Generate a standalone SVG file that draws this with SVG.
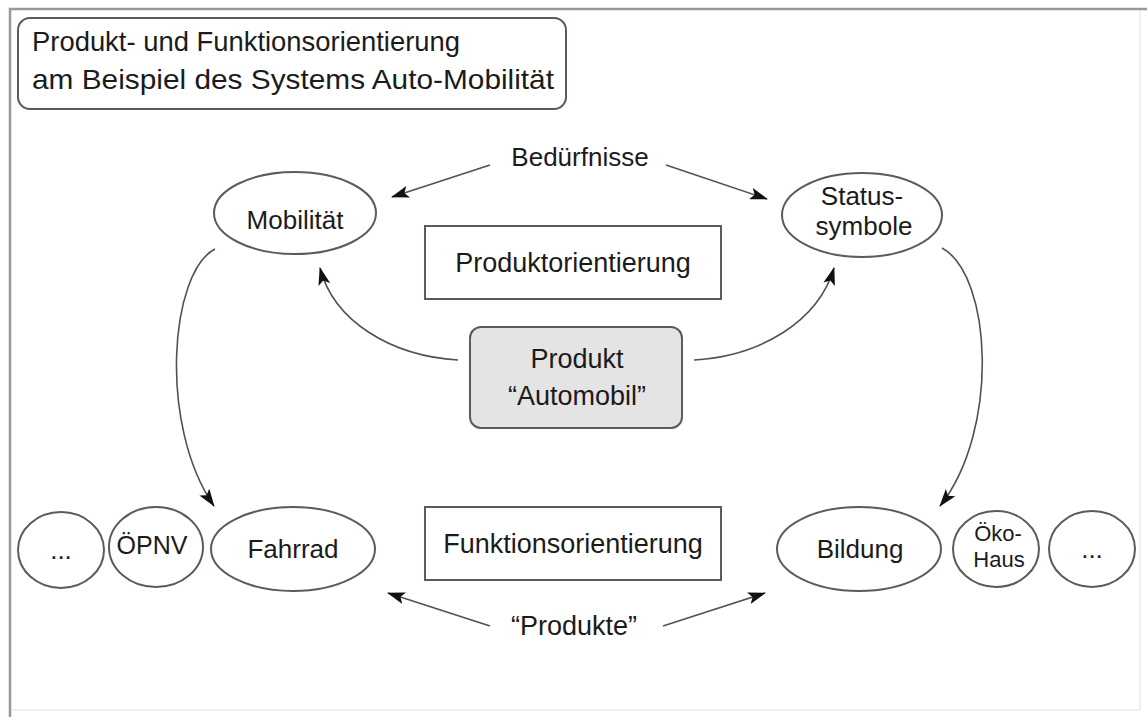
<svg xmlns="http://www.w3.org/2000/svg" width="1147" height="717" viewBox="0 0 1147 717">
<defs>
<style>
text{font-family:"Liberation Sans",Arial,sans-serif;fill:#1b1b1b;text-anchor:middle}
.t{font-size:26px}
.el{fill:#fff;stroke:#5e5a5a;stroke-width:2}
.bx{fill:#fff;stroke:#5e5a5a;stroke-width:2}
.c{fill:none;stroke:#555050;stroke-width:1.6}
</style>
<marker id="ah" viewBox="0 0 18 12" refX="17" refY="6" markerWidth="18" markerHeight="12" markerUnits="userSpaceOnUse" orient="auto">
<path d="M0,0 L18,6 L0,12 L4,6 Z" fill="#111"/>
</marker>
</defs>
<rect width="1147" height="717" fill="#fff"/>
<g id="frame">
<path d="M1140,9 L1140,710 L10,710" fill="none" stroke="#ececec" stroke-width="1.5"/>
<path d="M10,717 L10,9 L1147,9" fill="none" stroke="#9c9696" stroke-width="2.5"/>
</g>
<g id="title">
<rect x="18" y="18" width="548" height="91" rx="12" class="bx"/>
<text x="32" y="51" style="font-size:28px;text-anchor:start" textLength="428" lengthAdjust="spacingAndGlyphs">Produkt- und Funktionsorientierung</text>
<text x="32" y="89" style="font-size:28px;text-anchor:start" textLength="522" lengthAdjust="spacingAndGlyphs">am Beispiel des Systems Auto-Mobilität</text>
</g>
<g id="connectors">
<path class="c" d="M490,165 L392,197" marker-end="url(#ah)"/>
<path class="c" d="M666,165 L767,199" marker-end="url(#ah)"/>
<path class="c" d="M458,360 C392,356 334,322 320,268" marker-end="url(#ah)"/>
<path class="c" d="M694,360 C760,356 818,322 834,268" marker-end="url(#ah)"/>
<path class="c" d="M215,249 C170,272 158,425 214,506" marker-end="url(#ah)"/>
<path class="c" d="M942,248 C992,275 1000,430 940,506" marker-end="url(#ah)"/>
<path class="c" d="M490,626 L388,593" marker-end="url(#ah)"/>
<path class="c" d="M663,626 L765,593" marker-end="url(#ah)"/>
</g>
<g id="beduerfnisse"><text class="t" x="580" y="166">Bedürfnisse</text></g>
<g id="mobilitaet">
<ellipse cx="295" cy="213" rx="81" ry="41" class="el"/>
<text class="t" x="295" y="229">Mobilität</text>
</g>
<g id="statussymbole">
<ellipse cx="862" cy="215" rx="80" ry="42" class="el"/>
<text class="t" x="862" y="205">Status-</text>
<text class="t" x="864" y="235">symbole</text>
</g>
<g id="produktorientierung">
<rect x="425" y="226" width="296" height="73" class="bx"/>
<text x="573" y="272" style="font-size:27px">Produktorientierung</text>
</g>
<g id="produkt">
<rect x="470" y="327" width="212" height="101" rx="11" fill="#e4e4e4" stroke="#5e5a5a" stroke-width="2"/>
<text x="577" y="368" style="font-size:27px">Produkt</text>
<text x="577" y="405" style="font-size:27px">“Automobil”</text>
</g>
<g id="funktionsorientierung">
<rect x="425" y="507" width="296" height="73" class="bx"/>
<text x="573" y="553" style="font-size:27px">Funktionsorientierung</text>
</g>
<g id="dots-left">
<ellipse cx="61" cy="550" rx="43" ry="38" class="el"/>
<text class="t" x="61" y="559">...</text>
</g>
<g id="oepnv">
<ellipse cx="156" cy="547" rx="47" ry="40" class="el"/>
<text x="152" y="554" style="font-size:25px">ÖPNV</text>
</g>
<g id="fahrrad">
<ellipse cx="293" cy="549" rx="82" ry="42" class="el"/>
<text class="t" x="293" y="558">Fahrrad</text>
</g>
<g id="bildung">
<ellipse cx="859" cy="549" rx="82" ry="42" class="el"/>
<text class="t" x="860" y="558">Bildung</text>
</g>
<g id="oekohaus">
<ellipse cx="996" cy="549" rx="43" ry="38" class="el"/>
<text x="998" y="541" style="font-size:22px">Öko-</text>
<text x="999" y="567" style="font-size:22px">Haus</text>
</g>
<g id="dots-right">
<ellipse cx="1092" cy="549" rx="43" ry="38" class="el"/>
<text class="t" x="1092" y="558">...</text>
</g>
<g id="produkte"><text x="574" y="635" style="font-size:27px">“Produkte”</text></g>
</svg>
